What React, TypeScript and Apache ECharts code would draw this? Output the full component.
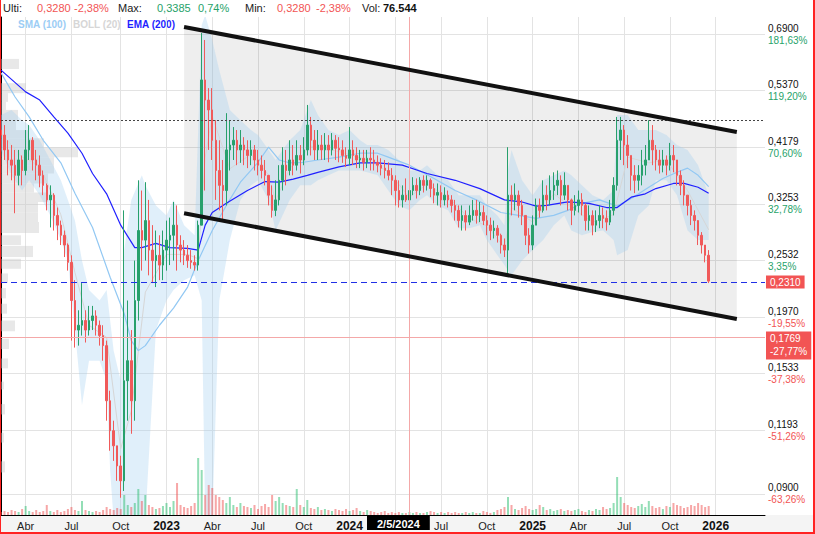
import React, { useEffect, useRef } from "react";
import * as echarts from "echarts";

// ---------- categories (weekly, Monday of each week) ----------
const START_UTC = Date.UTC(2022, 1, 7);
const WEEK_COUNT = 218;
const LAST_LABELLED_WEEK = 205;
const DAY = 86400000;
const QUARTER_MONTHS: Record<number, string> = { 3: "Abr", 6: "Jul", 9: "Oct" };

// ---------- weekly candles [open, close, low, high] ----------
const candles2022 = [
  [0.451,0.441,0.413,0.471],[0.441,0.413,0.395,0.461],[0.413,0.395,0.369,0.431],[0.395,0.386,0.361,0.422],
  [0.386,0.369,0.312,0.413],[0.369,0.395,0.353,0.413],[0.395,0.377,0.353,0.403],[0.377,0.413,0.369,0.451],
  [0.413,0.431,0.395,0.461],[0.431,0.395,0.377,0.437],[0.395,0.386,0.361,0.413],[0.386,0.369,0.350,0.403],
  [0.369,0.353,0.338,0.377],[0.353,0.331,0.316,0.356],[0.331,0.338,0.293,0.353],[0.338,0.309,0.289,0.341],
  [0.309,0.296,0.277,0.320],[0.296,0.283,0.271,0.302],[0.283,0.271,0.257,0.289],[0.271,0.251,0.242,0.273],
  [0.251,0.212,0.1775,0.259],[0.212,0.186,0.1721,0.232],[0.186,0.190,0.1736,0.203],[0.190,0.194,0.1815,0.229],
  [0.194,0.186,0.176,0.203],[0.186,0.194,0.1815,0.207],[0.194,0.198,0.186,0.207],[0.198,0.190,0.1815,0.203],
  [0.190,0.1815,0.1736,0.194],[0.1815,0.1736,0.1624,0.190],[0.1736,0.136,0.1245,0.1775],[0.136,0.1191,0.109,0.1422],
  [0.1191,0.1114,0.1042,0.1245],[0.1114,0.1019,0.0954,0.1114],[0.1019,0.0954,0.0885,0.1066],[0.0954,0.1486,0.0912,0.316],
  [0.1486,0.1624,0.1245,0.212],[0.1624,0.136,0.1175,0.186],[0.136,0.212,0.1245,0.253],[0.212,0.289,0.194,0.361],
  [0.289,0.277,0.242,0.345],[0.277,0.302,0.253,0.358],[0.302,0.265,0.237,0.331],[0.265,0.253,0.229,0.296],
  [0.253,0.259,0.225,0.289],[0.259,0.248,0.232,0.283],[0.248,0.265,0.232,0.289],
];
const candles2023 = [
  [0.265,0.277,0.242,0.302],[0.277,0.283,0.248,0.306],[0.283,0.296,0.253,0.328],[0.296,0.271,0.242,0.323],
  [0.271,0.265,0.251,0.283],[0.265,0.259,0.248,0.277],[0.259,0.253,0.245,0.271],[0.253,0.251,0.244,0.265],
  [0.251,0.248,0.242,0.259],[0.248,0.296,0.242,0.302],[0.296,0.563,0.296,0.693],[0.563,0.515,0.345,0.672],
  [0.515,0.493,0.413,0.543],[0.493,0.431,0.395,0.543],[0.431,0.377,0.331,0.471],[0.377,0.353,0.316,0.431],
  [0.353,0.345,0.302,0.395],[0.345,0.413,0.323,0.486],[0.413,0.422,0.377,0.471],[0.422,0.431,0.395,0.457],
  [0.431,0.413,0.386,0.451],[0.413,0.422,0.390,0.451],[0.422,0.413,0.386,0.437],[0.413,0.403,0.381,0.431],
  [0.403,0.413,0.386,0.431],[0.413,0.395,0.377,0.422],[0.395,0.386,0.369,0.413],[0.386,0.377,0.364,0.403],
  [0.377,0.369,0.353,0.395],[0.369,0.338,0.323,0.369],[0.338,0.316,0.306,0.353],[0.316,0.331,0.308,0.361],
  [0.331,0.361,0.323,0.386],[0.361,0.386,0.345,0.418],[0.386,0.377,0.353,0.413],[0.377,0.395,0.369,0.431],
  [0.395,0.386,0.369,0.422],[0.386,0.403,0.377,0.431],[0.403,0.395,0.372,0.422],[0.395,0.413,0.386,0.437],
  [0.413,0.461,0.403,0.504],[0.461,0.431,0.403,0.478],[0.431,0.413,0.395,0.451],[0.413,0.422,0.395,0.451],
  [0.422,0.413,0.395,0.441],[0.413,0.422,0.395,0.445],[0.422,0.413,0.391,0.441],[0.413,0.431,0.403,0.445],
  [0.431,0.416,0.395,0.441],[0.416,0.413,0.391,0.437],[0.413,0.403,0.390,0.431],[0.403,0.398,0.383,0.418],
];
const candles2024 = [
  [0.398,0.413,0.386,0.457],[0.413,0.403,0.386,0.431],[0.403,0.395,0.381,0.418],[0.395,0.398,0.381,0.413],
  [0.398,0.391,0.377,0.413],[0.391,0.398,0.381,0.413],[0.398,0.395,0.377,0.418],[0.395,0.391,0.377,0.413],
  [0.391,0.386,0.374,0.403],[0.386,0.381,0.369,0.398],[0.381,0.377,0.364,0.395],[0.377,0.369,0.361,0.391],
  [0.369,0.361,0.338,0.381],[0.361,0.345,0.323,0.369],[0.345,0.331,0.320,0.361],[0.331,0.338,0.320,0.353],
  [0.338,0.331,0.328,0.364],[0.331,0.345,0.328,0.364],[0.345,0.353,0.338,0.366],[0.353,0.345,0.333,0.364],
  [0.345,0.361,0.338,0.366],[0.361,0.353,0.342,0.369],[0.353,0.361,0.345,0.369],[0.361,0.348,0.335,0.364],
  [0.348,0.338,0.326,0.356],[0.338,0.342,0.323,0.356],[0.342,0.331,0.320,0.353],[0.331,0.338,0.323,0.350],
  [0.338,0.331,0.320,0.345],[0.331,0.323,0.313,0.338],[0.323,0.316,0.302,0.331],[0.316,0.302,0.293,0.323],
  [0.302,0.309,0.289,0.323],[0.309,0.300,0.289,0.316],[0.300,0.309,0.296,0.323],[0.309,0.316,0.302,0.331],
  [0.316,0.309,0.298,0.331],[0.309,0.313,0.300,0.328],[0.313,0.302,0.296,0.323],[0.302,0.296,0.283,0.309],
  [0.296,0.289,0.277,0.306],[0.289,0.292,0.279,0.302],[0.292,0.283,0.274,0.296],[0.283,0.271,0.261,0.285],
  [0.271,0.265,0.257,0.279],[0.265,0.338,0.239,0.418],[0.338,0.331,0.309,0.353],[0.331,0.338,0.316,0.356],
  [0.338,0.323,0.306,0.345],[0.323,0.309,0.296,0.331],[0.309,0.283,0.271,0.309],[0.283,0.271,0.261,0.292],
];
const candles2025 = [
  [0.271,0.296,0.265,0.309],[0.296,0.323,0.296,0.333],[0.323,0.316,0.306,0.333],[0.316,0.338,0.313,0.361],
  [0.338,0.331,0.316,0.353],[0.331,0.345,0.323,0.369],[0.345,0.353,0.331,0.374],[0.353,0.361,0.338,0.377],
  [0.361,0.338,0.323,0.369],[0.338,0.353,0.331,0.374],[0.353,0.331,0.316,0.353],[0.331,0.316,0.296,0.333],
  [0.316,0.323,0.309,0.338],[0.323,0.331,0.313,0.345],[0.331,0.323,0.309,0.341],[0.323,0.302,0.289,0.326],
  [0.302,0.309,0.289,0.323],[0.309,0.296,0.283,0.316],[0.296,0.302,0.287,0.316],[0.302,0.309,0.292,0.323],
  [0.309,0.305,0.292,0.320],[0.305,0.300,0.289,0.316],[0.300,0.316,0.296,0.331],[0.316,0.353,0.309,0.366],
  [0.353,0.431,0.345,0.478],[0.431,0.451,0.395,0.478],[0.451,0.422,0.386,0.461],[0.422,0.403,0.381,0.441],
  [0.403,0.369,0.345,0.403],[0.369,0.361,0.341,0.386],[0.361,0.369,0.345,0.386],[0.369,0.386,0.353,0.413],
  [0.386,0.395,0.369,0.422],[0.395,0.431,0.395,0.471],[0.431,0.413,0.386,0.461],[0.413,0.395,0.377,0.422],
  [0.395,0.386,0.372,0.413],[0.386,0.395,0.374,0.413],[0.395,0.386,0.369,0.403],[0.386,0.403,0.377,0.426],
  [0.403,0.395,0.374,0.422],[0.395,0.369,0.353,0.395],[0.369,0.353,0.338,0.377],[0.353,0.338,0.323,0.361],
  [0.338,0.323,0.309,0.338],[0.323,0.309,0.296,0.331],[0.309,0.302,0.289,0.316],[0.302,0.283,0.271,0.296],
  [0.283,0.271,0.261,0.287],[0.271,0.259,0.251,0.271],[0.259,0.231,0.229,0.265],
];

// weekly volume (thousands)
const volume2022 = [240,320,240,400,320,240,480,720,320,240,400,240,320,800,320,240,400,240,320,480,640,400,320,1120,400,320,240,320,240,400,640,480,400,560,480,1600,800,640,960,2080,1120,1600,800,640,480,560,720];
const volume2023 = [960,640,1120,2560,800,640,560,720,960,4560,3600,1600,2400,2160,1600,1440,1200,960,1440,800,640,960,720,640,560,800,480,720,880,640,1600,1120,1440,960,800,720,640,2080,800,640,1200,560,480,640,400,480,400,320,480,400,320,480];
const volume2024 = [320,400,560,320,240,400,320,240,160,240,320,160,240,160,240,160,160,240,160,240,160,160,240,320,240,160,240,160,240,160,240,160,160,240,160,240,160,160,320,240,160,240,400,480,640,1440,800,480,400,560,720,480];
const volume2025 = [400,480,800,640,400,480,320,400,480,320,400,320,400,480,320,240,400,320,480,400,640,480,560,960,3040,1440,960,800,640,560,720,880,640,1120,720,560,640,480,720,640,960,800,720,560,640,800,720,960,800,640,720];

// indicators [weekIndex, value]
const ema200 = [[0,0.588],[7,0.534],[11,0.515],[15,0.478],[19,0.445],[23,0.407],[26,0.372],[30,0.340],[34,0.296],[38,0.268],[40,0.268],[44,0.273],[48,0.268],[53,0.267],[56,0.265],[58,0.296],[60,0.313],[64,0.326],[70,0.345],[75,0.359],[79,0.358],[83,0.363],[87,0.369],[90,0.374],[96,0.383],[102,0.390],[107,0.390],[114,0.386],[121,0.372],[129,0.361],[136,0.348],[143,0.331],[148,0.328],[152,0.322],[155,0.323],[161,0.328],[167,0.326],[172,0.320],[175,0.320],[179,0.335],[183,0.340],[186,0.348],[191,0.356],[194,0.356],[198,0.350],[201,0.341]];
const sma100 = [[0,0.581],[4,0.522],[8,0.478],[12,0.431],[17,0.390],[21,0.341],[26,0.293],[31,0.235],[35,0.200],[37,0.1775],[39,0.1698],[41,0.1736],[45,0.190],[49,0.205],[53,0.225],[56,0.253],[60,0.289],[64,0.323],[68,0.358],[73,0.391],[76,0.418],[79,0.395],[82,0.390],[86,0.391],[90,0.395],[96,0.400],[102,0.407],[107,0.407],[110,0.400],[116,0.386],[123,0.364],[129,0.345],[135,0.331],[142,0.313],[147,0.309],[152,0.305],[157,0.309],[161,0.316],[165,0.326],[170,0.331],[175,0.322],[179,0.333],[184,0.350],[188,0.364],[192,0.374],[195,0.381],[198,0.369],[201,0.351]];
// Bollinger (20): [weekIndex, upper, lower]
const bollBands = [[0,0.482,0.413],[3,0.493,0.369],[6,0.471,0.345],[8,0.461,0.361],[11,0.431,0.338],[14,0.395,0.309],[17,0.361,0.277],[19,0.331,0.253],[21,0.302,0.186],[23,0.253,0.1335],[25,0.222,0.1624],[28,0.212,0.1624],[30,0.222,0.1486],[31,0.194,0.0997],[32,0.1698,0.08],[34,0.1486,0.08],[35,0.265,0.08],[37,0.331,0.08],[40,0.369,0.08],[41,0.353,0.08],[44,0.323,0.186],[47,0.309,0.212],[49,0.331,0.222],[52,0.296,0.232],[55,0.283,0.237],[57,0.718,0.212],[58,0.750,0.08],[60,0.672,0.08],[62,0.588,0.212],[65,0.493,0.277],[68,0.471,0.331],[71,0.451,0.353],[73,0.441,0.361],[76,0.413,0.331],[78,0.395,0.289],[82,0.431,0.331],[85,0.451,0.353],[88,0.515,0.353],[90,0.482,0.361],[93,0.451,0.369],[96,0.441,0.377],[99,0.451,0.377],[102,0.431,0.377],[104,0.422,0.374],[107,0.422,0.369],[110,0.413,0.345],[113,0.395,0.323],[116,0.377,0.316],[119,0.377,0.331],[121,0.386,0.338],[124,0.369,0.323],[127,0.361,0.316],[130,0.338,0.292],[133,0.338,0.292],[136,0.338,0.296],[138,0.323,0.277],[141,0.309,0.259],[143,0.296,0.248],[144,0.377,0.242],[145,0.413,0.237],[148,0.361,0.253],[151,0.338,0.265],[154,0.361,0.277],[157,0.369,0.296],[160,0.377,0.309],[162,0.369,0.289],[165,0.353,0.283],[168,0.338,0.287],[171,0.331,0.289],[174,0.345,0.277],[175,0.482,0.259],[178,0.482,0.265],[181,0.451,0.309],[184,0.451,0.323],[186,0.451,0.361],[189,0.441,0.361],[192,0.422,0.338],[195,0.413,0.289],[198,0.386,0.277],[201,0.338,0.277]];
const bollMid = [[0,0.445],[6,0.40],[11,0.385],[17,0.31],[21,0.24],[25,0.19],[30,0.18],[34,0.11],[37,0.13],[41,0.22],[47,0.26],[53,0.26],[56,0.255],[58,0.40],[60,0.48],[65,0.38],[71,0.405],[76,0.37],[78,0.33],[82,0.38],[88,0.42],[96,0.41],[104,0.395],[110,0.375],[116,0.335],[121,0.355],[127,0.335],[133,0.305],[138,0.295],[143,0.268],[145,0.32],[151,0.30],[157,0.34],[162,0.32],[168,0.30],[174,0.31],[178,0.40],[184,0.39],[189,0.395],[195,0.345],[201,0.29]];

// drawn channel [weekIndex, price]
const channelUpper = [[52.2, 0.712], [209.3, 0.447]];
const channelLower = [[52.2, 0.312], [209.3, 0.1953]];

// volume profile [priceLow, priceHigh, volume]
const volumeProfile = [[0.591,0.618,180],[0.531,0.555,250],[0.511,0.531,70],[0.493,0.511,50],[0.471,0.493,170],[0.451,0.471,150],[0.435,0.451,270],[0.418,0.435,430],[0.400,0.418,770],[0.386,0.400,530],[0.372,0.386,530],[0.356,0.372,470],[0.342,0.356,330],[0.328,0.342,470],[0.313,0.328,370],[0.300,0.313,370],[0.286,0.300,380],[0.271,0.283,200],[0.257,0.270,320],[0.244,0.255,200],[0.229,0.239,70],[0.214,0.224,50],[0.200,0.209,60],[0.185,0.194,140],[0.171,0.179,80],[0.157,0.164,70],[0.143,0.148,30],[0.128,0.134,40],[0.113,0.118,30],[0.099,0.104,40]];

// price axis
const yTicks = [0.69, 0.537, 0.4179, 0.3253, 0.2532, 0.197, 0.1533, 0.1193, 0.09];
const yTickLabels = ["0,6900","0,5370","0,4179","0,3253","0,2532","0,1970","0,1533","0,1193","0,0900"];
const yTickPct = ["181,63%","119,20%","70,60%","32,78%","3,35%","-19,55%","-37,38%","-51,26%","-63,26%"];

const LAST_PRICE = 0.231;
const LAST_LABEL = "0,2310";
const REF_LEVEL = 0.473;
const CROSS_PRICE = 0.1769;
const CROSS_LABEL = "0,1769\n-27,77%";
const CROSS_WEEK = 116;
const CROSS_DATE = "2/5/2024";
const HIDDEN_LABEL_WEEK = 112; // "Abr" 2024, covered by the crosshair date box

const header = [
  { t: "Ulti:", x: 3, c: "#222", w: "normal" },
  { t: "0,3280", x: 37, c: "#f25454", w: "normal" },
  { t: "-2,38%", x: 74, c: "#f25454", w: "normal" },
  { t: "Max:", x: 118, c: "#222", w: "normal" },
  { t: "0,3385", x: 157, c: "#26a269", w: "normal" },
  { t: "0,74%", x: 198, c: "#26a269", w: "normal" },
  { t: "Min:", x: 245, c: "#222", w: "normal" },
  { t: "0,3280", x: 277, c: "#f25454", w: "normal" },
  { t: "-2,38%", x: 316, c: "#f25454", w: "normal" },
  { t: "Vol:", x: 362, c: "#222", w: "normal" },
  { t: "76.544", x: 383, c: "#111", w: "bold" },
];
const legendItems = [
  { t: "SMA (100)", x: 18, c: "#9ccdf5" },
  { t: "BOLL (20)", x: 73, c: "#d6d6d6" },
  { t: "EMA (200)", x: 127, c: "#1f1fff" },
];

const UP = "#27a06c";
const DOWN = "#f05a5a";

export default function App() {
  const ref = useRef<HTMLDivElement>(null);
  useEffect(() => {
    document.body.style.margin = "0";
    const chart = echarts.init(ref.current!, null, { renderer: "svg" });

    const categories: string[] = [];
    for (let i = 0; i < WEEK_COUNT; i++) categories.push(new Date(START_UTC + i * 7 * DAY).toISOString().slice(0, 10));
    const quarterLabel = (i: number): string | null => {
      if (i > LAST_LABELLED_WEEK) return null;
      const fri = new Date(START_UTC + (i * 7 + 4) * DAY);
      const prev = new Date(START_UTC + (i * 7 - 3) * DAY);
      const m = fri.getUTCMonth();
      if (m !== prev.getUTCMonth() && m % 3 === 0) return m === 0 ? String(fri.getUTCFullYear()) : QUARTER_MONTHS[m];
      return null;
    };
    const showQuarter = (i: number) => quarterLabel(i) !== null;

    const candles = [...candles2022, ...candles2023, ...candles2024, ...candles2025];
    const volumes = [...volume2022, ...volume2023, ...volume2024, ...volume2025];
    const volumeData = volumes.map((v, i) => ({
      value: v,
      itemStyle: { color: candles[i][1] >= candles[i][0] ? "rgba(39,190,110,0.5)" : "rgba(240,80,80,0.5)" },
    }));

    const graphic: any[] = [
      { type: "rect", z: -10, silent: true, shape: { x: 0, y: 515, width: 815, height: 19 }, style: { fill: "#f4f4f4" } },
    ];
    header.forEach((h) =>
      graphic.push({ type: "text", x: h.x, y: 8, silent: true, style: { text: h.t, fill: h.c, font: `${h.w} 11px Arial`, verticalAlign: "middle" } })
    );
    legendItems.forEach((l) =>
      graphic.push({ type: "text", x: l.x, y: 24, silent: true, style: { text: l.t, fill: l.c, font: "bold 10px Arial", verticalAlign: "middle" } })
    );

    const option: any = {
      animation: false,
      backgroundColor: "#ffffff",
      textStyle: { fontFamily: "Arial, 'Liberation Sans', sans-serif" },
      graphic,
      grid: [
        { left: 1, right: 50, top: 17, bottom: 19, outerBoundsMode: "none" },
        { left: 1, right: 50, top: 455, bottom: 19, outerBoundsMode: "none" },
      ],
      xAxis: [
        {
          type: "category", gridIndex: 0, data: categories, boundaryGap: false,
          axisLine: { show: true, lineStyle: { color: "#000", width: 1 } },
          axisTick: { show: false, interval: showQuarter },
          splitLine: { show: true, interval: showQuarter, lineStyle: { color: "#e3e3e3", width: 1 } },
          axisLabel: {
            interval: showQuarter, margin: 5,
            formatter: (_v: string, i: number) => {
              if (i === HIDDEN_LABEL_WEEK) return "";
              const l = quarterLabel(i) || "";
              return /^\d{4}$/.test(l) ? `{y|${l}}` : `{m|${l}}`;
            },
            rich: {
              y: { fontSize: 12, fontWeight: "bold", color: "#111", fontFamily: "Arial" },
              m: { fontSize: 11, color: "#222", fontFamily: "Arial" },
            },
          },
        },
        { type: "value", gridIndex: 0, min: 0, max: 7640, show: false, position: "top", splitLine: { show: false } },
        { type: "category", gridIndex: 1, data: categories, boundaryGap: false, show: false },
      ],
      yAxis: [
        {
          type: "log", gridIndex: 0, position: "right", min: 0.082, max: 0.744,
          axisLine: { show: true, lineStyle: { color: "#000", width: 1 } },
          axisTick: { show: false, customValues: yTicks },
          splitLine: { show: true, lineStyle: { color: "#e3e3e3", width: 1 } },
          axisLabel: {
            customValues: yTicks, margin: 3,
            formatter: (v: number) => {
              let k = 0;
              yTicks.forEach((t, j) => { if (Math.abs(t - v) < Math.abs(yTicks[k] - v)) k = j; });
              const pct = yTickPct[k];
              return `{p|${yTickLabels[k]}}\n{${pct.startsWith("-") ? "r" : "g"}|${pct}}`;
            },
            rich: {
              p: { fontSize: 10, color: "#111", lineHeight: 12, fontFamily: "Arial" },
              g: { fontSize: 10, color: "#27a36a", lineHeight: 12, fontFamily: "Arial" },
              r: { fontSize: 10, color: "#f25454", lineHeight: 12, fontFamily: "Arial" },
            },
          },
        },
        { type: "value", gridIndex: 1, min: 0, max: 4800, show: false, splitLine: { show: false } },
      ],
      series: [
        {
          type: "custom", name: "channel-fill", xAxisIndex: 0, yAxisIndex: 0, z: 1, clip: true, silent: true,
          data: [[0, 0.3]],
          renderItem: (_p: any, api: any) => ({
            type: "polygon",
            shape: { points: [api.coord(channelUpper[0]), api.coord(channelUpper[1]), api.coord(channelLower[1]), api.coord(channelLower[0])] },
            style: { fill: "rgba(0,0,0,0.065)" },
          }),
        },
        {
          type: "custom", name: "profile", xAxisIndex: 1, yAxisIndex: 0, z: 1, clip: true, silent: true,
          data: volumeProfile, encode: { x: 2, y: 0 },
          renderItem: (_p: any, api: any) => {
            const lo = api.value(0), hi = api.value(1), vol = api.value(2);
            const a = api.coord([0, hi]);
            const b = api.coord([vol, lo]);
            return { type: "rect", shape: { x: a[0], y: a[1], width: b[0] - a[0], height: b[1] - a[1] }, style: { fill: "rgba(200,200,200,0.42)" } };
          },
        },
        {
          type: "custom", name: "BOLL (20) band", xAxisIndex: 0, yAxisIndex: 0, z: 2, clip: true, silent: true,
          data: [[0, 0.3]],
          renderItem: (_p: any, api: any) => {
            const pts: number[][] = [];
            bollBands.forEach((b) => pts.push(api.coord([b[0], b[1]])));
            for (let k = bollBands.length - 1; k >= 0; k--) pts.push(api.coord([bollBands[k][0], bollBands[k][2]]));
            return { type: "polygon", shape: { points: pts }, style: { fill: "rgba(160,205,240,0.32)" } };
          },
        },
        {
          type: "line", name: "BOLL (20)", xAxisIndex: 0, yAxisIndex: 0, z: 2, data: bollMid, symbol: "none", silent: true,
          lineStyle: { color: "#d6d6d6", width: 1 },
        },
        {
          type: "line", name: "SMA (100)", xAxisIndex: 0, yAxisIndex: 0, z: 3, data: sma100, symbol: "none", silent: true,
          lineStyle: { color: "#92c8f3", width: 1.2 },
        },
        {
          type: "line", name: "EMA (200)", xAxisIndex: 0, yAxisIndex: 0, z: 3, data: ema200, symbol: "none", silent: true,
          lineStyle: { color: "#2020ff", width: 1.2 },
        },
        {
          type: "candlestick", name: "price", xAxisIndex: 0, yAxisIndex: 0, z: 4, data: candles, barWidth: 2,
          itemStyle: { color: UP, color0: DOWN, borderColor: UP, borderColor0: DOWN, borderWidth: 1 },
          markLine: {
            symbol: ["none", "none"], silent: true, animation: false,
            data: [
              { yAxis: REF_LEVEL, lineStyle: { color: "#444", type: [2, 2], width: 1 }, label: { show: false } },
              {
                yAxis: LAST_PRICE, lineStyle: { color: "#2030e6", type: [6, 4], width: 1 },
                label: { show: true, position: "end", distance: 1, formatter: LAST_LABEL, backgroundColor: "#f25454", color: "#fff", fontSize: 10, padding: [2, 4, 1, 4], fontFamily: "Arial" },
              },
              {
                yAxis: CROSS_PRICE, lineStyle: { color: "#f4a8a8", type: "solid", width: 1 },
                label: { show: true, position: "end", distance: 1, offset: [0, 8], formatter: CROSS_LABEL, backgroundColor: "#f25454", color: "#fff", fontSize: 10, lineHeight: 13, padding: [1, 4, 1, 4], fontFamily: "Arial" },
              },
              {
                xAxis: CROSS_WEEK, lineStyle: { color: "#f4a8a8", type: "solid", width: 1 },
                label: { show: true, position: "start", distance: 1, offset: [-11, 0], formatter: CROSS_DATE, backgroundColor: "#000", color: "#fff", fontSize: 11, fontWeight: "bold", padding: [2, 10, 1, 10], fontFamily: "Arial" },
              },
            ],
          },
        },
        {
          type: "custom", name: "channel-lines", xAxisIndex: 0, yAxisIndex: 0, z: 5, clip: true, silent: true,
          data: [[0, 0.3]],
          renderItem: (_p: any, api: any) => ({
            type: "group",
            children: [
              { type: "polyline", shape: { points: [api.coord(channelUpper[0]), api.coord(channelUpper[1])] }, style: { stroke: "#111", lineWidth: 4, fill: null } },
              { type: "polyline", shape: { points: [api.coord(channelLower[0]), api.coord(channelLower[1])] }, style: { stroke: "#111", lineWidth: 4, fill: null } },
            ],
          }),
        },
        {
          type: "bar", name: "Vol", xAxisIndex: 2, yAxisIndex: 1, z: 2, data: volumeData, barWidth: 2, silent: true,
        },
      ],
    };
    chart.setOption(option);
    return () => chart.dispose();
  }, []);
  return (
    <div style={{ position: "relative", width: 815, height: 534, background: "#fff", overflow: "hidden" }}>
      <div ref={ref} style={{ width: 815, height: 534 }} />
      <div style={{ position: "absolute", left: 0, top: 0, width: 815, height: 534, boxSizing: "border-box", borderLeft: "1px solid #f22", borderRight: "2px solid #f22", borderBottom: "2px solid #f22", pointerEvents: "none" }} />
    </div>
  );
}
